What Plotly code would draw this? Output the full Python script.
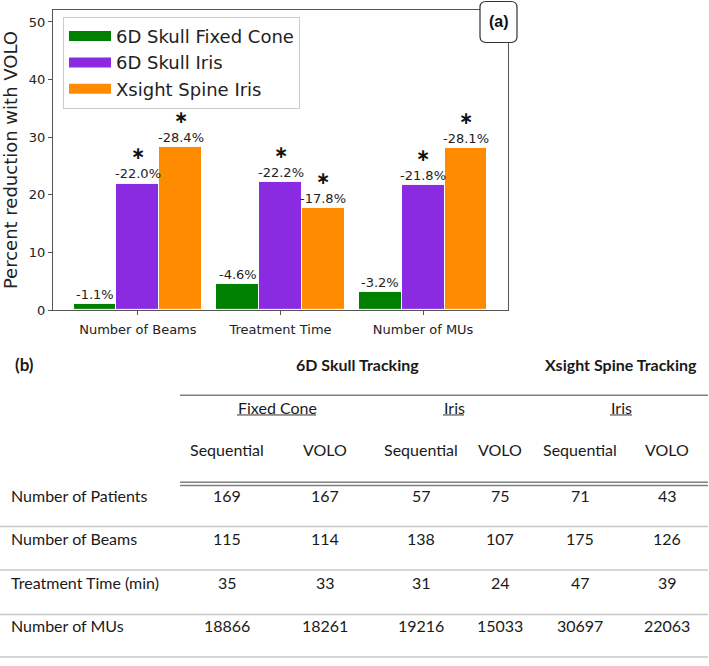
import plotly.graph_objects as go

# ---------------- data ----------------
categories = ["Number of Beams", "Treatment Time", "Number of MUs"]
series_names = ["6D Skull Fixed Cone", "6D Skull Iris", "Xsight Spine Iris"]
fixed_cone = [1.1, 4.6, 3.2]
skull_iris = [22.0, 22.2, 21.8]
spine_iris = [28.4, 17.8, 28.1]
sig_fixed = [False, False, False]
sig_skull = [True, True, True]
sig_spine = [True, True, True]
y_ticks = [0, 10, 20, 30, 40, 50]

table_groups = ["6D Skull Tracking", "Xsight Spine Tracking"]
table_subgroups = ["Fixed Cone", "Iris", "Iris"]
table_columns = ["Sequential", "VOLO", "Sequential", "VOLO", "Sequential", "VOLO"]
row_labels = ["Number of Patients", "Number of Beams", "Treatment Time (min)", "Number of MUs"]
patients = [169, 167, 57, 75, 71, 43]
beams = [115, 114, 138, 107, 175, 126]
treat_time = [35, 33, 31, 24, 47, 39]
mus = [18866, 18261, 19216, 15033, 30697, 22063]

# ---------------- styles / layout ----------------
W, H = 709, 666
colors = ["#008000", "#8a2be2", "#ff8c00"]
offsets = [-0.3, 0.0, 0.3]
bar_w = 0.3
MPL = "DejaVu Sans"
TAB = "Lato"


def px(x):
    return x / W


def py(y):
    return 1 - y / H


fig = go.Figure()

series = [fixed_cone, skull_iris, spine_iris]
sigs = [sig_fixed, sig_skull, sig_spine]
annotations = []
shapes = []

for s, (name, vals, sig) in enumerate(zip(series_names, series, sigs)):
    xs = [i + offsets[s] for i in range(len(categories))]
    fig.add_trace(go.Bar(
        x=xs, y=vals, width=bar_w, name=name, showlegend=False,
        marker=dict(color=colors[s], line=dict(color="white", width=1)),
        hoverinfo="y",
    ))
    # legend proxy (wide rectangular swatch like the original)
    fig.add_trace(go.Scatter(
        x=[None], y=[None], mode="lines", name=name,
        line=dict(color=colors[s], width=11),
    ))
    for x, v, sg in zip(xs, vals, sig):
        annotations.append(dict(
            x=x, y=v, xref="x", yref="y", text=f"-{v:.1f}%",
            showarrow=False, yanchor="middle", yshift=9.5,
            font=dict(family=MPL, size=13, color="#222"),
        ))
        if sg:
            annotations.append(dict(
                x=x, y=v, xref="x", yref="y", text="<b>\u2217</b>",
                showarrow=False, yanchor="middle", yshift=30,
                font=dict(family=MPL, size=17, color="#111"),
            ))

# (a) label with rounded box
ax0, ax1, ay0, ay1, r = 480, 517, 1.5, 43, 6
path = (f"M {px(ax0 + r)},{py(ay0)} L {px(ax1 - r)},{py(ay0)} "
        f"Q {px(ax1)},{py(ay0)} {px(ax1)},{py(ay0 + r)} L {px(ax1)},{py(ay1 - r)} "
        f"Q {px(ax1)},{py(ay1)} {px(ax1 - r)},{py(ay1)} L {px(ax0 + r)},{py(ay1)} "
        f"Q {px(ax0)},{py(ay1)} {px(ax0)},{py(ay1 - r)} L {px(ax0)},{py(ay0 + r)} "
        f"Q {px(ax0)},{py(ay0)} {px(ax0 + r)},{py(ay0)} Z")
shapes.append(dict(type="path", xref="paper", yref="paper", path=path,
                   fillcolor="white", line=dict(color="#333", width=1.2), layer="above"))
annotations.append(dict(x=px((ax0 + ax1) / 2), y=py(22), xref="paper", yref="paper",
                        text="<b>(a)</b>", showarrow=False,
                        xanchor="center", yanchor="middle",
                        font=dict(family="Liberation Sans", size=16, color="#111")))

# ---------------- table (b) ----------------
col_x = [227, 325, 421, 500, 580, 667]
group_x = [357, 621]
sub_x = [277, 454, 621]
underline_spans = [(237, 316), (443, 464), (610, 632)]
row_y = [502, 545, 590, 633]
line_y = [533, 577, 622, 665]


def tab_text(x, y, text, size=16, bold=False, anchor="center"):
    annotations.append(dict(
        x=px(x), y=py(y), xref="paper", yref="paper",
        text=f"<b>{text}</b>" if bold else text, showarrow=False,
        xanchor=anchor, yanchor="middle",
        font=dict(family=TAB, size=size, color="#1a1a1a"),
    ))


tab_text(13, 369, "(b)", size=17, bold=True, anchor="left")
for gx, g in zip(group_x, table_groups):
    tab_text(gx, 369, g, size=16, bold=True)
for sx, sname in zip(sub_x, table_subgroups):
    tab_text(sx, 412, sname)
for (u0, u1) in underline_spans:
    shapes.append(dict(type="line", xref="paper", yref="paper",
                       x0=px(u0), x1=px(u1), y0=py(420), y1=py(420),
                       line=dict(color="#333", width=1)))
for cx, c in zip(col_x, table_columns):
    tab_text(cx, 455, c)

shapes.append(dict(type="line", xref="paper", yref="paper", x0=px(180), x1=px(708),
                   y0=py(400), y1=py(400), line=dict(color="#7f7f7f", width=1.5)))
for yy in (488, 491.5):
    shapes.append(dict(type="line", xref="paper", yref="paper", x0=px(180), x1=px(708),
                       y0=py(yy), y1=py(yy), line=dict(color="#7f7f7f", width=1.5)))

rows = [patients, beams, treat_time, mus]
for ry, lab, vals in zip(row_y, row_labels, rows):
    tab_text(9, ry, lab, anchor="left")
    for cx, v in zip(col_x, vals):
        tab_text(cx, ry, str(v))
for ly in line_y:
    shapes.append(dict(type="line", xref="paper", yref="paper", x0=0, x1=px(708),
                       y0=py(ly), y1=py(ly), line=dict(color="#c8c8c8", width=1.5)))

axis_common = dict(showline=True, mirror=True, linecolor="#555", linewidth=1.2,
                   ticks="outside", ticklen=4, tickcolor="#555", showgrid=False,
                   zeroline=False, tickfont=dict(family=MPL, size=13, color="#222"))

fig.update_layout(
    width=W, height=H, margin=dict(l=0, r=0, t=0, b=0),
    paper_bgcolor="white", plot_bgcolor="white",
    barmode="overlay", bargap=0,
    xaxis=dict(domain=[px(53), px(508)], range=[-0.595, 2.595],
               tickvals=list(range(len(categories))), ticktext=categories,
               ticklabelstandoff=3, **axis_common),
    yaxis=dict(domain=[py(314), py(10)], range=[0, 52.1], tickvals=y_ticks,
               title=dict(text="Percent reduction with VOLO",
                          font=dict(family=MPL, size=18, color="#222"), standoff=8),
               **axis_common),
    legend=dict(x=px(63), y=py(17), xanchor="left", yanchor="top",
                font=dict(family=MPL, size=18, color="#222"),
                bgcolor="rgba(255,255,255,0.85)", bordercolor="#cccccc", borderwidth=1,
                itemwidth=42, tracegroupgap=0),
    annotations=annotations, shapes=shapes,
    showlegend=True,
)

fig.write_html("out.html", config={"displayModeBar": False},
               post_script="document.body.style.margin='0';")
